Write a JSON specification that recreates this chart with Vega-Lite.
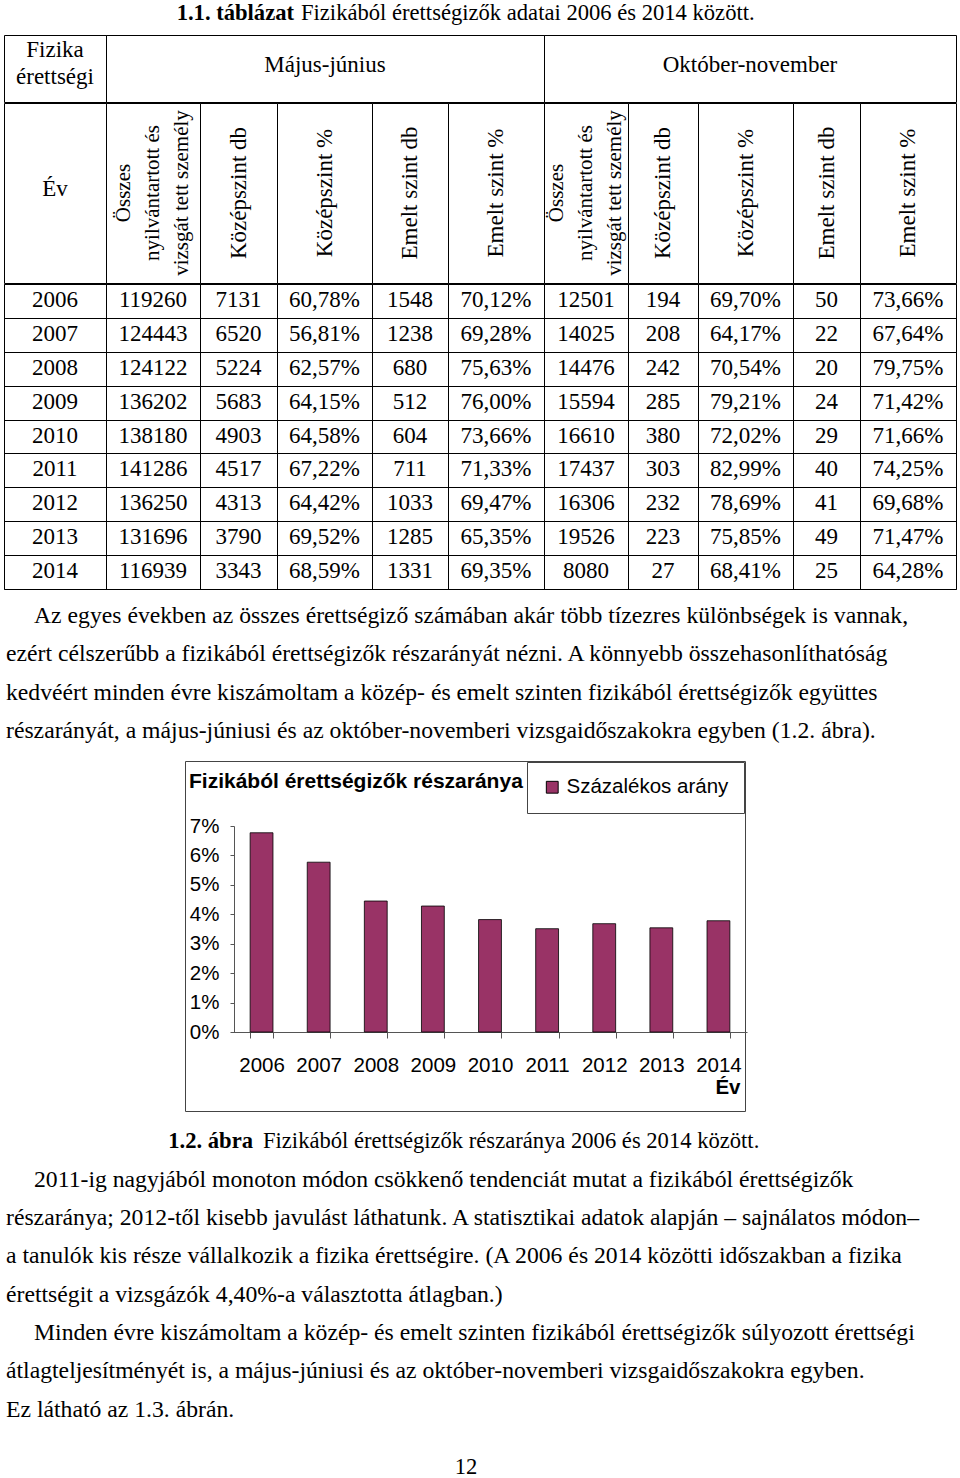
{
  "$schema": "https://vega.github.io/schema/vega-lite/v6.json",
  "padding": {"left": 3, "right": 0, "top": 0, "bottom": 0},
  "background": "white",
  "spacing": 0,
  "resolve": {"legend": {"fill": "independent"}, "scale": {"fill": "independent"}},
  "config": {
    "view": {"stroke": null},
    "concat": {"spacing": 0},
    "font": "Liberation Serif",
    "text": {"font": "Liberation Serif", "fontSize": 22.6, "color": "#000"},
    "locale": {"number": {"decimal": ",", "thousands": " ", "grouping": [3], "currency": ["", ""]}}
  },
  "datasets": {
    "tabla": [
      {"ev": "2006", "mj_ossz": 119260, "mj_kdb": 7131, "mj_kpct": 0.6078, "mj_edb": 1548, "mj_epct": 0.7012, "on_ossz": 12501, "on_kdb": 194, "on_kpct": 0.6970, "on_edb": 50, "on_epct": 0.7366},
      {"ev": "2007", "mj_ossz": 124443, "mj_kdb": 6520, "mj_kpct": 0.5681, "mj_edb": 1238, "mj_epct": 0.6928, "on_ossz": 14025, "on_kdb": 208, "on_kpct": 0.6417, "on_edb": 22, "on_epct": 0.6764},
      {"ev": "2008", "mj_ossz": 124122, "mj_kdb": 5224, "mj_kpct": 0.6257, "mj_edb": 680, "mj_epct": 0.7563, "on_ossz": 14476, "on_kdb": 242, "on_kpct": 0.7054, "on_edb": 20, "on_epct": 0.7975},
      {"ev": "2009", "mj_ossz": 136202, "mj_kdb": 5683, "mj_kpct": 0.6415, "mj_edb": 512, "mj_epct": 0.7600, "on_ossz": 15594, "on_kdb": 285, "on_kpct": 0.7921, "on_edb": 24, "on_epct": 0.7142},
      {"ev": "2010", "mj_ossz": 138180, "mj_kdb": 4903, "mj_kpct": 0.6458, "mj_edb": 604, "mj_epct": 0.7366, "on_ossz": 16610, "on_kdb": 380, "on_kpct": 0.7202, "on_edb": 29, "on_epct": 0.7166},
      {"ev": "2011", "mj_ossz": 141286, "mj_kdb": 4517, "mj_kpct": 0.6722, "mj_edb": 711, "mj_epct": 0.7133, "on_ossz": 17437, "on_kdb": 303, "on_kpct": 0.8299, "on_edb": 40, "on_epct": 0.7425},
      {"ev": "2012", "mj_ossz": 136250, "mj_kdb": 4313, "mj_kpct": 0.6442, "mj_edb": 1033, "mj_epct": 0.6947, "on_ossz": 16306, "on_kdb": 232, "on_kpct": 0.7869, "on_edb": 41, "on_epct": 0.6968},
      {"ev": "2013", "mj_ossz": 131696, "mj_kdb": 3790, "mj_kpct": 0.6952, "mj_edb": 1285, "mj_epct": 0.6535, "on_ossz": 19526, "on_kdb": 223, "on_kpct": 0.7585, "on_edb": 49, "on_epct": 0.7147},
      {"ev": "2014", "mj_ossz": 116939, "mj_kdb": 3343, "mj_kpct": 0.6859, "mj_edb": 1331, "mj_epct": 0.6935, "on_ossz": 8080, "on_kdb": 27, "on_kpct": 0.6841, "on_edb": 25, "on_epct": 0.6428}
    ],
    "arany": [
      {"ev": "2006", "arany": 0.0677, "sorozat": "Százalékos arány"},
      {"ev": "2007", "arany": 0.0577, "sorozat": "Százalékos arány"},
      {"ev": "2008", "arany": 0.0445, "sorozat": "Százalékos arány"},
      {"ev": "2009", "arany": 0.0428, "sorozat": "Százalékos arány"},
      {"ev": "2010", "arany": 0.0382, "sorozat": "Százalékos arány"},
      {"ev": "2011", "arany": 0.0351, "sorozat": "Százalékos arány"},
      {"ev": "2012", "arany": 0.0368, "sorozat": "Százalékos arány"},
      {"ev": "2013", "arany": 0.0354, "sorozat": "Százalékos arány"},
      {"ev": "2014", "arany": 0.0378, "sorozat": "Százalékos arány"}
    ],
    "bekezdes1": [
      {"sor": 1, "behuzas": 1, "szoveg": "Az egyes években az összes érettségiző számában akár több tízezres különbségek is vannak,"},
      {"sor": 2, "behuzas": 0, "szoveg": "ezért célszerűbb a fizikából érettségizők részarányát nézni. A könnyebb összehasonlíthatóság"},
      {"sor": 3, "behuzas": 0, "szoveg": "kedvéért minden évre kiszámoltam a közép- és emelt szinten fizikából érettségizők együttes"},
      {"sor": 4, "behuzas": 0, "szoveg": "részarányát, a május-júniusi és az október-novemberi vizsgaidőszakokra egyben (1.2. ábra)."}
    ],
    "bekezdes2": [
      {"sor": 0, "tipus": "szam", "behuzas": 0, "szoveg": "1.2. ábra"},
      {"sor": 0, "tipus": "felirat", "behuzas": 0, "szoveg": "Fizikából érettségizők részaránya 2006 és 2014 között."},
      {"sor": 1, "tipus": "sor", "behuzas": 1, "szoveg": "2011-ig nagyjából monoton módon csökkenő tendenciát mutat a fizikából érettségizők"},
      {"sor": 2, "tipus": "sor", "behuzas": 0, "szoveg": "részaránya; 2012-től kisebb javulást láthatunk. A statisztikai adatok alapján – sajnálatos módon–"},
      {"sor": 3, "tipus": "sor", "behuzas": 0, "szoveg": "a tanulók kis része vállalkozik a fizika érettségire. (A 2006 és 2014 közötti időszakban a fizika"},
      {"sor": 4, "tipus": "sor", "behuzas": 0, "szoveg": "érettségit a vizsgázók 4,40%-a választotta átlagban.)"},
      {"sor": 5, "tipus": "sor", "behuzas": 1, "szoveg": "Minden évre kiszámoltam a közép- és emelt szinten fizikából érettségizők súlyozott érettségi"},
      {"sor": 6, "tipus": "sor", "behuzas": 0, "szoveg": "átlagteljesítményét is, a május-júniusi és az október-novemberi vizsgaidőszakokra egyben."},
      {"sor": 7, "tipus": "sor", "behuzas": 0, "szoveg": "Ez látható az 1.3. ábrán."}
    ]
  },
  "vconcat": [
    {
      "width": 924, "height": 34,
      "data": {"values": [{"resz": "szam", "szoveg": "1.1. táblázat"}, {"resz": "cim", "szoveg": "Fizikából érettségizők adatai 2006 és 2014 között."}]},
      "layer": [
        {"transform": [{"filter": "datum.resz === 'szam'"}], "mark": {"type": "text", "align": "right", "baseline": "alphabetic", "dx": -172, "dy": 3.3, "fontWeight": "bold"}, "encoding": {"text": {"field": "szoveg", "type": "nominal"}}},
        {"transform": [{"filter": "datum.resz === 'cim'"}], "mark": {"type": "text", "align": "left", "baseline": "alphabetic", "dx": -165, "dy": 3.3}, "encoding": {"text": {"field": "szoveg", "type": "nominal"}}}
      ]
    },
    {
      "vconcat": [
        {
          "hconcat": [
            {"width": 102, "height": 67, "view": {"stroke": "#000"}, "data": {"values": [{"f": ["Fizika", "érettségi"]}]}, "mark": {"type": "text", "fontSize": 23, "lineHeight": 27, "dy": -19}, "encoding": {"text": {"field": "f", "type": "nominal"}}},
            {"width": 438, "height": 67, "view": {"stroke": "#000"}, "data": {"values": [{"f": "Május-június"}]}, "mark": {"type": "text", "fontSize": 23, "dy": -4}, "encoding": {"text": {"field": "f", "type": "nominal"}}},
            {"width": 412, "height": 67, "view": {"stroke": "#000"}, "data": {"values": [{"f": "Október-november"}]}, "mark": {"type": "text", "fontSize": 23, "dy": -4}, "encoding": {"text": {"field": "f", "type": "nominal"}}}
          ],
          "spacing": 0, "bounds": "flush"
        },
        {
          "hconcat": [
            {"width": 102, "height": 180, "view": {"stroke": "#000"}, "data": {"values": [{"f": "Év"}]}, "mark": {"type": "text", "fontSize": 23, "dy": -4}, "encoding": {"text": {"field": "f", "type": "nominal"}}},
            {"width": 94, "height": 180, "view": {"stroke": "#000"}, "data": {"values": [{"f": ["Összes", "nyilvántartott és", "vizsgát tett személy"]}]}, "mark": {"type": "text", "angle": 270, "fontSize": 21, "lineHeight": 29, "dy": -29}, "encoding": {"text": {"field": "f", "type": "nominal"}}},
            {"width": 77, "height": 180, "view": {"stroke": "#000"}, "data": {"values": [{"f": "Középszint db"}]}, "mark": {"type": "text", "angle": 270, "fontSize": 23}, "encoding": {"text": {"field": "f", "type": "nominal"}}},
            {"width": 95, "height": 180, "view": {"stroke": "#000"}, "data": {"values": [{"f": "Középszint %"}]}, "mark": {"type": "text", "angle": 270, "fontSize": 23}, "encoding": {"text": {"field": "f", "type": "nominal"}}},
            {"width": 76, "height": 180, "view": {"stroke": "#000"}, "data": {"values": [{"f": "Emelt szint db"}]}, "mark": {"type": "text", "angle": 270, "fontSize": 23}, "encoding": {"text": {"field": "f", "type": "nominal"}}},
            {"width": 96, "height": 180, "view": {"stroke": "#000"}, "data": {"values": [{"f": "Emelt szint %"}]}, "mark": {"type": "text", "angle": 270, "fontSize": 23}, "encoding": {"text": {"field": "f", "type": "nominal"}}},
            {"width": 84, "height": 180, "view": {"stroke": "#000"}, "data": {"values": [{"f": ["Összes", "nyilvántartott és", "vizsgát tett személy"]}]}, "mark": {"type": "text", "angle": 270, "fontSize": 21, "lineHeight": 29, "dy": -29}, "encoding": {"text": {"field": "f", "type": "nominal"}}},
            {"width": 70, "height": 180, "view": {"stroke": "#000"}, "data": {"values": [{"f": "Középszint db"}]}, "mark": {"type": "text", "angle": 270, "fontSize": 23}, "encoding": {"text": {"field": "f", "type": "nominal"}}},
            {"width": 95, "height": 180, "view": {"stroke": "#000"}, "data": {"values": [{"f": "Középszint %"}]}, "mark": {"type": "text", "angle": 270, "fontSize": 23}, "encoding": {"text": {"field": "f", "type": "nominal"}}},
            {"width": 67, "height": 180, "view": {"stroke": "#000"}, "data": {"values": [{"f": "Emelt szint db"}]}, "mark": {"type": "text", "angle": 270, "fontSize": 23}, "encoding": {"text": {"field": "f", "type": "nominal"}}},
            {"width": 96, "height": 180, "view": {"stroke": "#000"}, "data": {"values": [{"f": "Emelt szint %"}]}, "mark": {"type": "text", "angle": 270, "fontSize": 23}, "encoding": {"text": {"field": "f", "type": "nominal"}}}
          ],
          "spacing": 0, "bounds": "flush"
        },
        {
          "hconcat": [
            {"width": 102, "height": 305, "view": {"stroke": "#000"}, "data": {"name": "tabla"}, "mark": {"type": "text", "fontSize": 23, "dy": -1}, "encoding": {"y": {"field": "ev", "type": "ordinal", "scale": {"type": "band", "paddingInner": 0, "paddingOuter": 0}, "axis": {"title": null, "labels": false, "ticks": false, "domain": false, "grid": true, "gridColor": "#000", "gridOpacity": 1, "tickBand": "extent"}}, "text": {"field": "ev", "type": "nominal"}}},
            {"width": 94, "height": 305, "view": {"stroke": "#000"}, "data": {"name": "tabla"}, "mark": {"type": "text", "fontSize": 23, "dy": -1}, "encoding": {"y": {"field": "ev", "type": "ordinal", "scale": {"type": "band", "paddingInner": 0, "paddingOuter": 0}, "axis": {"title": null, "labels": false, "ticks": false, "domain": false, "grid": true, "gridColor": "#000", "gridOpacity": 1, "tickBand": "extent"}}, "text": {"field": "mj_ossz", "type": "quantitative", "format": "d"}}},
            {"width": 77, "height": 305, "view": {"stroke": "#000"}, "data": {"name": "tabla"}, "mark": {"type": "text", "fontSize": 23, "dy": -1}, "encoding": {"y": {"field": "ev", "type": "ordinal", "scale": {"type": "band", "paddingInner": 0, "paddingOuter": 0}, "axis": {"title": null, "labels": false, "ticks": false, "domain": false, "grid": true, "gridColor": "#000", "gridOpacity": 1, "tickBand": "extent"}}, "text": {"field": "mj_kdb", "type": "quantitative", "format": "d"}}},
            {"width": 95, "height": 305, "view": {"stroke": "#000"}, "data": {"name": "tabla"}, "mark": {"type": "text", "fontSize": 23, "dy": -1}, "encoding": {"y": {"field": "ev", "type": "ordinal", "scale": {"type": "band", "paddingInner": 0, "paddingOuter": 0}, "axis": {"title": null, "labels": false, "ticks": false, "domain": false, "grid": true, "gridColor": "#000", "gridOpacity": 1, "tickBand": "extent"}}, "text": {"field": "mj_kpct", "type": "quantitative", "format": ".2%"}}},
            {"width": 76, "height": 305, "view": {"stroke": "#000"}, "data": {"name": "tabla"}, "mark": {"type": "text", "fontSize": 23, "dy": -1}, "encoding": {"y": {"field": "ev", "type": "ordinal", "scale": {"type": "band", "paddingInner": 0, "paddingOuter": 0}, "axis": {"title": null, "labels": false, "ticks": false, "domain": false, "grid": true, "gridColor": "#000", "gridOpacity": 1, "tickBand": "extent"}}, "text": {"field": "mj_edb", "type": "quantitative", "format": "d"}}},
            {"width": 96, "height": 305, "view": {"stroke": "#000"}, "data": {"name": "tabla"}, "mark": {"type": "text", "fontSize": 23, "dy": -1}, "encoding": {"y": {"field": "ev", "type": "ordinal", "scale": {"type": "band", "paddingInner": 0, "paddingOuter": 0}, "axis": {"title": null, "labels": false, "ticks": false, "domain": false, "grid": true, "gridColor": "#000", "gridOpacity": 1, "tickBand": "extent"}}, "text": {"field": "mj_epct", "type": "quantitative", "format": ".2%"}}},
            {"width": 84, "height": 305, "view": {"stroke": "#000"}, "data": {"name": "tabla"}, "mark": {"type": "text", "fontSize": 23, "dy": -1}, "encoding": {"y": {"field": "ev", "type": "ordinal", "scale": {"type": "band", "paddingInner": 0, "paddingOuter": 0}, "axis": {"title": null, "labels": false, "ticks": false, "domain": false, "grid": true, "gridColor": "#000", "gridOpacity": 1, "tickBand": "extent"}}, "text": {"field": "on_ossz", "type": "quantitative", "format": "d"}}},
            {"width": 70, "height": 305, "view": {"stroke": "#000"}, "data": {"name": "tabla"}, "mark": {"type": "text", "fontSize": 23, "dy": -1}, "encoding": {"y": {"field": "ev", "type": "ordinal", "scale": {"type": "band", "paddingInner": 0, "paddingOuter": 0}, "axis": {"title": null, "labels": false, "ticks": false, "domain": false, "grid": true, "gridColor": "#000", "gridOpacity": 1, "tickBand": "extent"}}, "text": {"field": "on_kdb", "type": "quantitative", "format": "d"}}},
            {"width": 95, "height": 305, "view": {"stroke": "#000"}, "data": {"name": "tabla"}, "mark": {"type": "text", "fontSize": 23, "dy": -1}, "encoding": {"y": {"field": "ev", "type": "ordinal", "scale": {"type": "band", "paddingInner": 0, "paddingOuter": 0}, "axis": {"title": null, "labels": false, "ticks": false, "domain": false, "grid": true, "gridColor": "#000", "gridOpacity": 1, "tickBand": "extent"}}, "text": {"field": "on_kpct", "type": "quantitative", "format": ".2%"}}},
            {"width": 67, "height": 305, "view": {"stroke": "#000"}, "data": {"name": "tabla"}, "mark": {"type": "text", "fontSize": 23, "dy": -1}, "encoding": {"y": {"field": "ev", "type": "ordinal", "scale": {"type": "band", "paddingInner": 0, "paddingOuter": 0}, "axis": {"title": null, "labels": false, "ticks": false, "domain": false, "grid": true, "gridColor": "#000", "gridOpacity": 1, "tickBand": "extent"}}, "text": {"field": "on_edb", "type": "quantitative", "format": "d"}}},
            {"width": 96, "height": 305, "view": {"stroke": "#000"}, "data": {"name": "tabla"}, "mark": {"type": "text", "fontSize": 23, "dy": -1}, "encoding": {"y": {"field": "ev", "type": "ordinal", "scale": {"type": "band", "paddingInner": 0, "paddingOuter": 0}, "axis": {"title": null, "labels": false, "ticks": false, "domain": false, "grid": true, "gridColor": "#000", "gridOpacity": 1, "tickBand": "extent"}}, "text": {"field": "on_epct", "type": "quantitative", "format": ".2%"}}}
          ],
          "spacing": 0, "bounds": "flush"
        }
      ],
      "spacing": -2
    },
    {
      "width": 924, "height": 170,
      "data": {"name": "bekezdes1"},
      "mark": {"type": "text", "align": "left", "dy": -1.5, "fontSize": 23.7},
      "encoding": {
        "y": {"field": "sor", "type": "ordinal", "scale": {"type": "band", "paddingInner": 0, "paddingOuter": 0.22}, "axis": null},
        "x": {"field": "behuzas", "type": "quantitative", "scale": {"domain": [0, 1], "range": [2, 30]}, "axis": null},
        "text": {"field": "szoveg", "type": "nominal"}
      }
    },
    {
      "hconcat": [
        {"width": 181, "height": 350, "data": {"values": []}, "mark": "text"},
        {
          "width": 560, "height": 350,
          "view": {"stroke": "#444", "strokeWidth": 1},
          "data": {"name": "arany"},
          "title": {"text": "Fizikából érettségizők részaránya", "anchor": "start", "frame": "group", "orient": "top", "offset": -42, "baseline": "middle", "dx": 4, "font": "Liberation Sans", "fontSize": 21, "fontWeight": "bold", "color": "#000"},
          "mark": {"type": "bar", "stroke": "#000", "strokeWidth": 0.8},
          "encoding": {
            "x": {"field": "ev", "type": "ordinal", "scale": {"type": "band", "range": [48, 562], "paddingInner": 0.6, "paddingOuter": 0.3},
                  "axis": {"orient": "bottom", "offset": -79, "title": "Év", "titleAnchor": "end", "titleX": 555, "titleFont": "Liberation Sans", "titleFontSize": 20.5, "titleFontWeight": "bold", "titleColor": "#000", "titlePadding": 2, "labelFont": "Liberation Sans", "labelFontSize": 20.5, "labelColor": "#000", "labelAngle": 0, "labelPadding": 17, "labelOverlap": false, "tickBand": "extent", "tickSize": 6, "tickColor": "#555", "domainColor": "#555"}},
            "y": {"field": "arany", "type": "quantitative", "scale": {"domain": [0, 0.07], "range": [271, 65], "nice": false},
                  "axis": {"offset": -49, "values": [0, 0.01, 0.02, 0.03, 0.04, 0.05, 0.06, 0.07], "format": ".0%", "title": null, "grid": false, "labelFont": "Liberation Sans", "labelFontSize": 20.5, "labelColor": "#000", "labelPadding": 11, "tickSize": 4, "tickColor": "#555", "domainColor": "#555"}},
            "fill": {"field": "sorozat", "type": "nominal", "scale": {"range": ["#993366"]},
                     "legend": {"title": null, "orient": "top-right", "offset": 1, "strokeColor": "#444", "fillColor": "#fff", "padding": 15, "labelOffset": 4, "symbolType": "square", "symbolSize": 140, "symbolStrokeColor": "#000", "symbolStrokeWidth": 1, "symbolOpacity": 1, "labelFont": "Liberation Sans", "labelFontSize": 20.5, "labelColor": "#000", "labelLimit": 0}}
          }
        }
      ],
      "spacing": 0, "bounds": "flush",
      "resolve": {"legend": {"fill": "independent"}, "scale": {"fill": "independent"}}
    },
    {
      "width": 924, "height": 326,
      "data": {"name": "bekezdes2"},
      "layer": [
        {
          "transform": [{"filter": "datum.tipus === 'sor'"}],
          "mark": {"type": "text", "align": "left", "dy": 0.5, "fontSize": 23.7},
          "encoding": {
            "y": {"field": "sor", "type": "ordinal", "scale": {"type": "band", "paddingInner": 0, "paddingOuter": 0.2525}, "axis": null},
            "x": {"field": "behuzas", "type": "quantitative", "scale": {"domain": [0, 1], "range": [2, 30]}, "axis": null},
            "text": {"field": "szoveg", "type": "nominal"}
          }
        },
        {
          "transform": [{"filter": "datum.tipus === 'szam'"}],
          "mark": {"type": "text", "align": "right", "fontWeight": "bold", "dx": -213, "dy": 0},
          "encoding": {
            "y": {"field": "sor", "type": "ordinal", "axis": null},
            "text": {"field": "szoveg", "type": "nominal"}
          }
        },
        {
          "transform": [{"filter": "datum.tipus === 'felirat'"}],
          "mark": {"type": "text", "align": "left", "dx": -203, "dy": 0},
          "encoding": {
            "y": {"field": "sor", "type": "ordinal", "axis": null},
            "text": {"field": "szoveg", "type": "nominal"}
          }
        }
      ]
    },
    {
      "width": 924, "height": 42,
      "data": {"values": [{"oldal": "12"}]},
      "mark": {"type": "text", "baseline": "middle", "dy": 7.5},
      "encoding": {"text": {"field": "oldal", "type": "nominal"}}
    }
  ]
}
